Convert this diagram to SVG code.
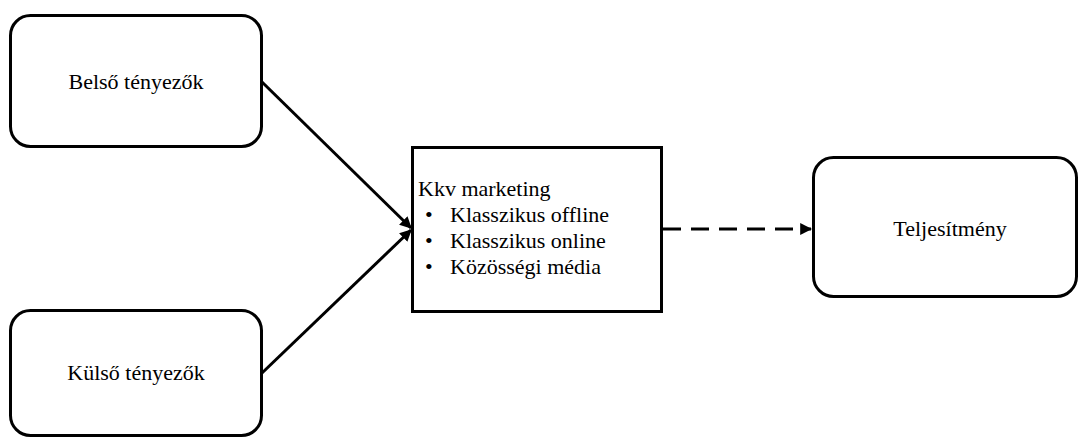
<svg xmlns="http://www.w3.org/2000/svg" width="1079" height="437" viewBox="0 0 1079 437">
<style>
.box{fill:#fff;stroke:#000;stroke-width:3}
.t{font-family:"Liberation Serif","Times New Roman",serif;font-size:22px;fill:#000}
.c{text-anchor:middle;dominant-baseline:central}
.ln{stroke:#000;stroke-width:3;fill:none}
</style>
<defs>
<marker id="ah" viewBox="0 0 10 10" refX="9" refY="5" markerWidth="4" markerHeight="4" orient="auto" markerUnits="strokeWidth">
<path d="M0,0 L10,5 L0,10 Z" fill="#000"/>
</marker>
</defs>
<g id="connectors">
<line class="ln" x1="262" y1="82" x2="411" y2="228" marker-end="url(#ah)"/>
<line class="ln" x1="262" y1="373" x2="411" y2="230" marker-end="url(#ah)"/>
<line class="ln" x1="663" y1="229" x2="811" y2="229" stroke-dasharray="18,10" marker-end="url(#ah)"/>
</g>
<g id="belso">
<rect class="box" x="10.5" y="15.5" width="251" height="131" rx="20"/>
<text class="t c" x="136" y="81">Belső tényezők</text>
</g>
<g id="kulso">
<rect class="box" x="10.5" y="310.5" width="251" height="125" rx="20"/>
<text class="t c" x="136" y="372">Külső tényezők</text>
</g>
<g id="kkv">
<rect class="box" x="412.5" y="147.5" width="249" height="164"/>
<text class="t" x="418" y="196">Kkv marketing</text>
<text class="t" x="425" y="222">•</text><text class="t" x="450" y="222">Klasszikus offline</text>
<text class="t" x="425" y="248">•</text><text class="t" x="450" y="248">Klasszikus online</text>
<text class="t" x="425" y="274">•</text><text class="t" x="450" y="274">Közösségi média</text>
</g>
<g id="teljesitmeny">
<rect class="box" x="813.5" y="157.5" width="263" height="139" rx="20"/>
<text class="t c" x="950" y="228">Teljesítmény</text>
</g>
</svg>
